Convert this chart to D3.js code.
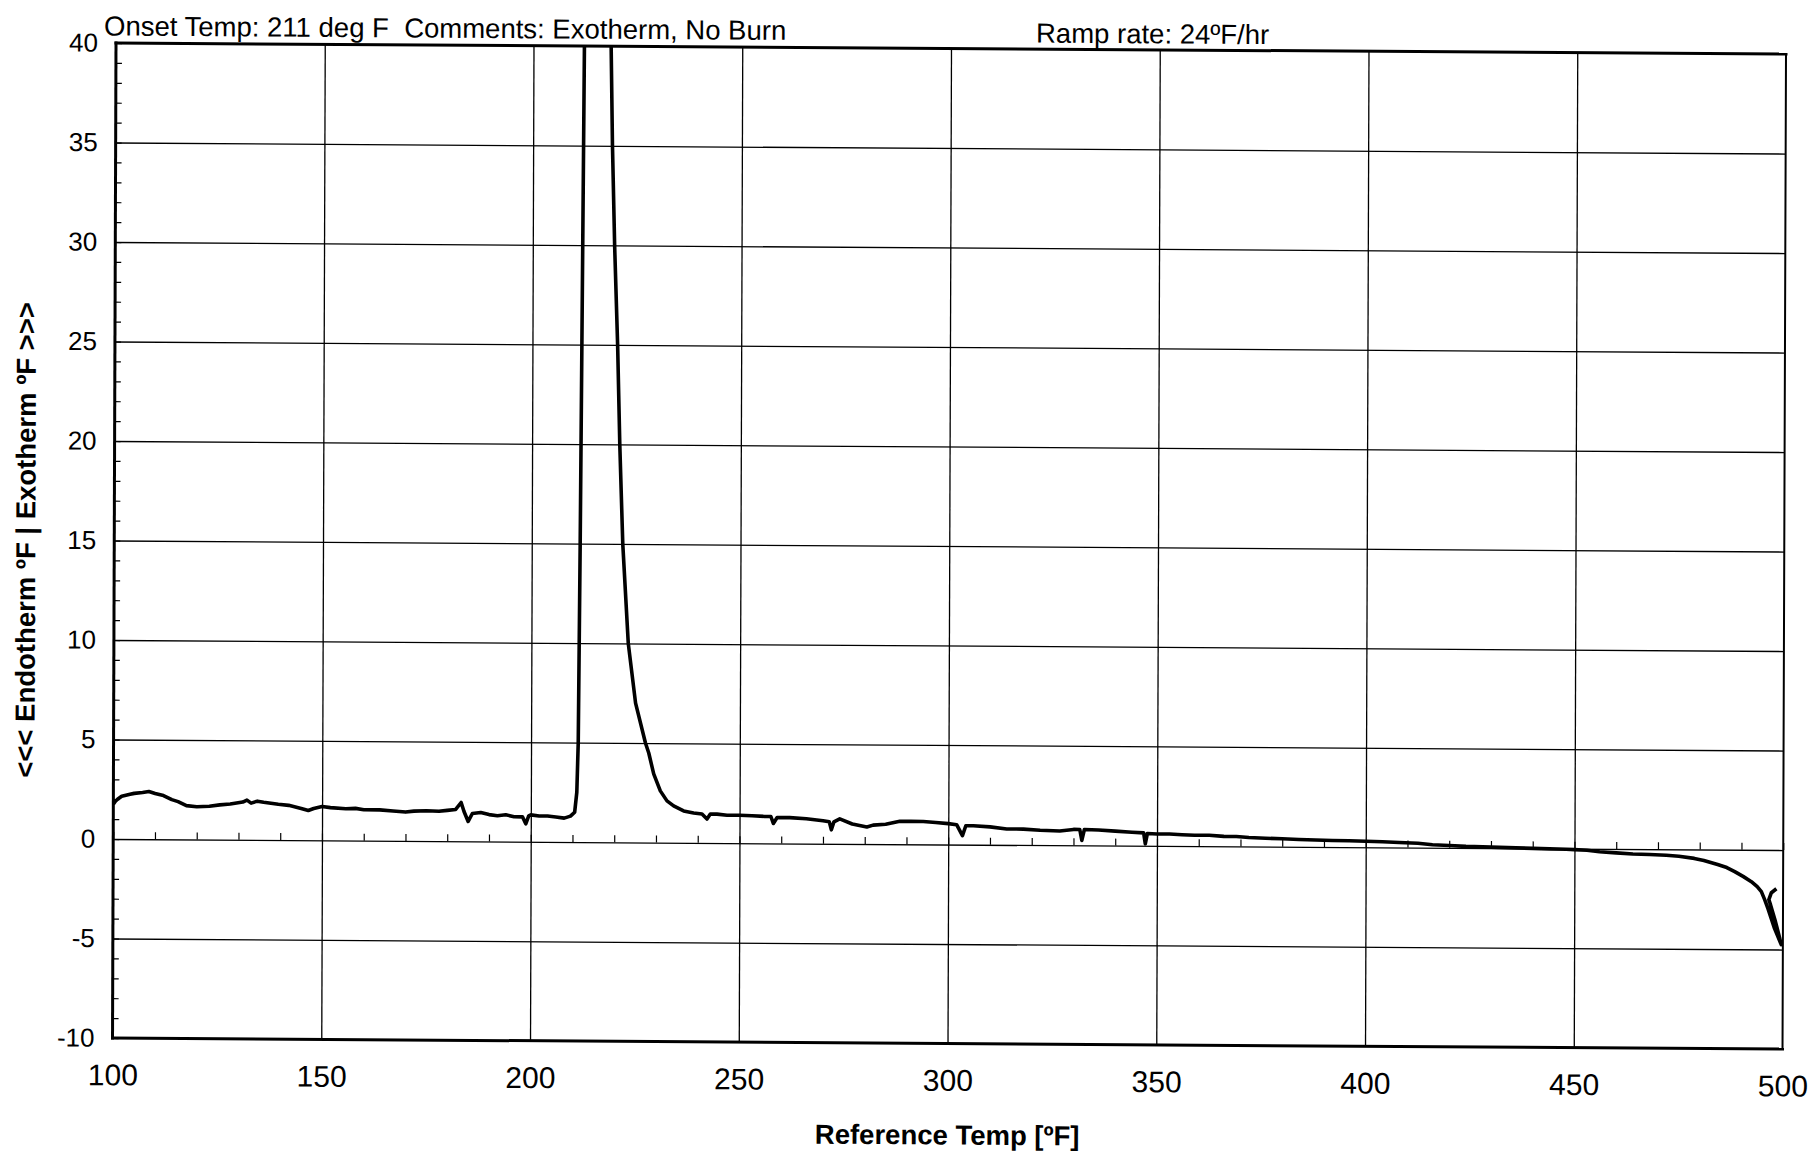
<!DOCTYPE html>
<html>
<head>
<meta charset="utf-8">
<script src="https://cdn.jsdelivr.net/npm/d3@7"></script>
<style>
    body { margin: 0; background: #fff; }
    #chart svg { display: block; }
</style>
</head>
<body>
<div id="chart"></div>
<script>
// reference temperature [deg F]
const refTemps = [
    100, 100.5, 101, 102, 103, 104, 105, 107, 108.5, 110, 112, 114, 115.5, 117.5, 120,
    123, 125.5, 128, 131, 132, 133, 134.5, 136, 139.5, 142, 145, 146.7, 148, 150, 152,
    155.7, 158, 160, 163.8, 167, 170, 172, 175, 178, 180, 182, 183.3, 184, 185, 186,
    188, 190, 192, 194, 196, 198, 198.8, 199.5, 200, 202, 204, 206, 208, 209.5, 210.5,
    211, 211.3, 211.6, 212.2, 215.5, 218.6, 219, 219.6, 220.4, 221, 221.8, 223.2, 225,
    227.4, 228.2, 229.4, 231, 232.6, 234.2, 236.6, 239, 241, 242.2, 243, 244.6, 247,
    250, 253, 256, 257.5, 258.1, 259, 262, 266, 270, 271.5, 272, 272.6, 274, 277,
    280.5, 282, 285, 288.4, 291, 294, 297, 300, 302, 303.4, 304.2, 306, 310, 314, 318,
    322, 326.7, 330, 331.5, 332, 332.6, 336, 340, 344, 346.8, 347.2, 347.7, 350, 353,
    356, 359, 362.5, 366, 369, 372, 376, 380, 384, 388, 392, 396, 400, 404, 408, 412.5,
    416, 420, 424, 428, 432, 436, 440, 444, 448, 450, 453, 456, 460, 464, 468, 472,
    475, 478.7, 481, 484.3, 486.5, 488.4, 490.5, 492.4, 493.8, 494.8, 495.6, 496.4,
    497.2, 498, 498.8, 499.6, 499.2, 498.2, 497, 496.6, 497.2, 498.4
];

// differential temperature [deg F], exotherm positive
const deltaTemps = [
    1.75, 1.9, 2.0, 2.15, 2.2, 2.25, 2.3, 2.35, 2.4, 2.3, 2.2, 2.0, 1.9, 1.7, 1.65,
    1.68, 1.75, 1.8, 1.9, 2.0, 1.85, 1.95, 1.9, 1.8, 1.75, 1.6, 1.5, 1.6, 1.7, 1.65,
    1.6, 1.62, 1.55, 1.55, 1.5, 1.45, 1.5, 1.52, 1.5, 1.55, 1.6, 1.95, 1.5, 1.0, 1.4,
    1.45, 1.35, 1.3, 1.35, 1.25, 1.25, 0.9, 1.3, 1.35, 1.3, 1.3, 1.25, 1.2, 1.3, 1.5,
    2.5, 5, 15, 40, 70, 40, 35, 30, 25, 20, 15, 10, 7,
    5, 4.5, 3.45, 2.6, 2.1, 1.85, 1.6, 1.5, 1.45, 1.2, 1.45, 1.45, 1.4,
    1.4, 1.38, 1.35, 1.35, 1.0, 1.3, 1.3, 1.25, 1.15, 1.1, 0.7, 1.1, 1.25, 1.0,
    0.85, 0.95, 1.0, 1.15, 1.15, 1.15, 1.1, 1.05, 1.0, 0.45, 0.95, 0.95, 0.9, 0.8, 0.8,
    0.75, 0.72, 0.8, 0.8, 0.25, 0.8, 0.78, 0.73, 0.68, 0.65, 0.1, 0.62, 0.6, 0.6,
    0.57, 0.55, 0.55, 0.5, 0.5, 0.45, 0.42, 0.4, 0.37, 0.35, 0.33, 0.32, 0.3, 0.28, 0.25, 0.22,
    0.15, 0.12, 0.08, 0.06, 0.04, 0.02, 0.0, -0.02, -0.03, -0.05, -0.08, -0.15, -0.2, -0.25, -0.27, -0.3,
    -0.35, -0.45, -0.55, -0.75, -0.9, -1.1, -1.35, -1.6, -1.85, -2.1, -2.5, -2.95,
    -3.45, -3.95, -4.35, -4.75, -4.4, -3.6, -2.75, -2.5, -2.15, -1.95
];

const xTicks = [100, 150, 200, 250, 300, 350, 400, 450, 500];
const yTicks = [-10, -5, 0, 5, 10, 15, 20, 25, 30, 35, 40];

const headerNote = "Onset Temp: 211 deg F  Comments: Exotherm, No Burn";
const rampNote = "Ramp rate: 24ºF/hr";
const xTitle = "Reference Temp [ºF]";
const yTitle = "<<< Endotherm ºF | Exotherm ºF >>>";


class DscChart {
    constructor(_parentElement, _data) {
        this.parentElement = _parentElement;
        this.data = _data;
        this.displayData = [];

        this.initVis();
    }

    initVis() {
        let vis = this;

        vis.margin = {top: 43, right: 26, bottom: 114, left: 116};
        vis.width = 1812 - vis.margin.left - vis.margin.right;
        vis.height = 1152 - vis.margin.top - vis.margin.bottom;

        vis.svg = d3.select("#" + vis.parentElement).append("svg")
            .attr("width", 1812)
            .attr("height", 1152);

        // the printout was scanned a little crooked
        vis.page = vis.svg.append("g")
            .attr("transform", "matrix(1,0.0066,-0.0035,1,0.15,-0.76)");

        vis.g = vis.page.append("g")
            .attr("transform", `translate(${vis.margin.left}, ${vis.margin.top})`);

        vis.x = d3.scaleLinear().domain([100, 500]).range([0, vis.width]);
        vis.y = d3.scaleLinear().domain([-10, 40]).range([vis.height, 0]);

        // grid
        vis.g.append("g")
            .attr("class", "x-grid")
            .attr("transform", `translate(0, ${vis.height})`)
            .call(d3.axisBottom(vis.x).tickValues(xTicks.slice(1, -1)).tickSize(-vis.height).tickFormat(""))
            .call(g => g.select(".domain").remove())
            .selectAll("line").attr("stroke", "#000").attr("stroke-width", 1.3);

        vis.g.append("g")
            .attr("class", "y-grid")
            .call(d3.axisLeft(vis.y).tickValues(yTicks.slice(1, -1)).tickSize(-vis.width).tickFormat(""))
            .call(g => g.select(".domain").remove())
            .selectAll("line").attr("stroke", "#000").attr("stroke-width", 1.3);

        // minor ticks: along the left edge and on the zero line
        vis.g.append("g")
            .attr("class", "y-minor")
            .call(d3.axisRight(vis.y).ticks(50).tickSize(6).tickFormat(""))
            .call(g => g.select(".domain").remove())
            .selectAll("line").attr("stroke", "#000").attr("stroke-width", 1.2);

        vis.g.append("g")
            .attr("class", "x-minor")
            .attr("transform", `translate(0, ${vis.y(0)})`)
            .call(d3.axisTop(vis.x).ticks(40).tickSize(7).tickFormat(""))
            .call(g => g.select(".domain").remove())
            .selectAll("line").attr("stroke", "#000").attr("stroke-width", 1.2);

        // frame
        const frame = [
            {x1: 0, y1: 0, x2: vis.width, y2: 0, w: 3},
            {x1: 0, y1: vis.height, x2: vis.width, y2: vis.height, w: 3},
            {x1: 0, y1: 0, x2: 0, y2: vis.height, w: 3},
            {x1: vis.width, y1: 0, x2: vis.width, y2: vis.height, w: 2}
        ];
        vis.g.append("g").selectAll("line").data(frame).join("line")
            .attr("x1", d => d.x1).attr("y1", d => d.y1)
            .attr("x2", d => d.x2).attr("y2", d => d.y2)
            .attr("stroke", "#000").attr("stroke-width", d => d.w)
            .attr("stroke-linecap", "square");

        // tick labels (plain hyphen for negatives, like the printout)
        vis.xAxisGroup = vis.g.append("g")
            .attr("class", "x-axis axis")
            .attr("transform", `translate(0, ${vis.height})`)
            .call(d3.axisBottom(vis.x).tickValues(xTicks).tickSize(0).tickPadding(26).tickFormat(d => String(d)))
            .call(g => g.select(".domain").remove());
        vis.xAxisGroup.selectAll("text")
            .attr("font-family", "'Liberation Sans Narrow', 'Liberation Sans', Arial, sans-serif")
            .attr("font-size", 30)
            .attr("fill", "#000");

        vis.yAxisGroup = vis.g.append("g")
            .attr("class", "y-axis axis")
            .call(d3.axisLeft(vis.y).tickValues(yTicks).tickSize(0).tickPadding(18).tickFormat(d => String(d)))
            .call(g => g.select(".domain").remove());
        vis.yAxisGroup.selectAll("text")
            .attr("font-family", "'Liberation Sans', Arial, sans-serif")
            .attr("font-size", 26)
            .attr("fill", "#000");

        // titles and notes
        vis.page.append("text")
            .attr("x", 104).attr("y", 35.5)
            .style("white-space", "pre")
            .attr("font-family", "'Liberation Sans Narrow', 'Liberation Sans', Arial, sans-serif")
            .attr("font-size", 27.5)
            .text(headerNote);

        vis.page.append("text")
            .attr("x", 1036).attr("y", 36.5)
            .attr("font-family", "'Liberation Sans Narrow', 'Liberation Sans', Arial, sans-serif")
            .attr("font-size", 27.5)
            .text(rampNote);

        vis.g.append("text")
            .attr("x", vis.width / 2).attr("y", vis.height + 101)
            .attr("text-anchor", "middle")
            .attr("font-family", "'Liberation Sans', Arial, sans-serif")
            .attr("font-weight", "bold")
            .attr("font-size", 27.5)
            .text(xTitle);

        vis.g.append("text")
            .attr("transform", `translate(-79, ${vis.height / 2}) rotate(-90)`)
            .attr("text-anchor", "middle")
            .attr("font-family", "'Liberation Sans', Arial, sans-serif")
            .attr("font-weight", "bold")
            .attr("font-size", 27.5)
            .text(yTitle);

        vis.g.append("clipPath").attr("id", "plot-clip")
            .append("rect").attr("width", vis.width).attr("height", vis.height);

        vis.line = d3.line()
            .x(d => vis.x(d.t))
            .y(d => vis.y(d.v));

        vis.path = vis.g.append("path")
            .attr("clip-path", "url(#plot-clip)")
            .attr("fill", "none")
            .attr("stroke", "#000")
            .attr("stroke-width", 3.6)
            .attr("stroke-linejoin", "round");

        vis.wrangleData();
    }

    wrangleData() {
        let vis = this;
        vis.displayData = vis.data.temps.map((t, i) => ({t: t, v: vis.data.deltas[i]}));
        vis.updateVis();
    }

    updateVis() {
        let vis = this;
        vis.path.datum(vis.displayData).attr("d", vis.line);
    }
}

const chart = new DscChart("chart", {temps: refTemps, deltas: deltaTemps});
</script>
</body>
</html>
